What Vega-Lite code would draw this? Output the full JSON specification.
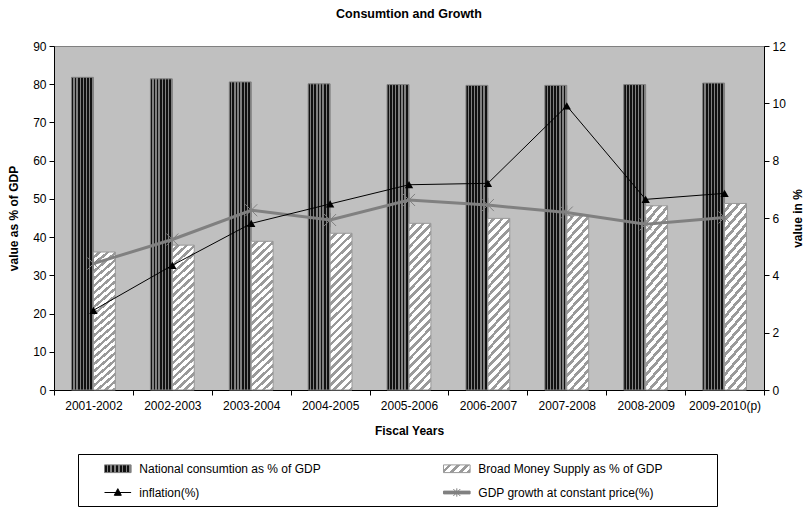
{
  "$schema": "https://vega.github.io/schema/vega-lite/v6.json",
  "width": 710,
  "height": 344,
  "autosize": {"type": "none"},
  "padding": {"left": 54, "top": 46, "right": 45, "bottom": 117},
  "background": "white",
  "title": {"text": "Consumtion and Growth", "font": "Liberation Sans", "fontSize": 12.5, "fontWeight": "bold", "color": "black", "anchor": "middle", "offset": 20},
  "config": {
    "view": {"fill": "#c0c0c0", "stroke": "#808080"},
    "axis": {"domainColor": "black", "tickColor": "black", "labelColor": "black", "titleColor": "black", "labelFont": "Liberation Sans", "titleFont": "Liberation Sans", "labelFontSize": 12, "titleFontSize": 12, "titleFontWeight": "bold", "grid": false, "tickSize": 5, "labelPadding": 3}
  },
  "data": {"values": [
    {"year": "2001-2002", "national": 81.8, "broad": 36.1, "inflation": 2.78, "gdp": 4.41},
    {"year": "2002-2003", "national": 81.4, "broad": 37.9, "inflation": 4.35, "gdp": 5.25},
    {"year": "2003-2004", "national": 80.6, "broad": 38.9, "inflation": 5.81, "gdp": 6.27},
    {"year": "2004-2005", "national": 80.1, "broad": 41.0, "inflation": 6.49, "gdp": 5.93},
    {"year": "2005-2006", "national": 79.9, "broad": 43.6, "inflation": 7.16, "gdp": 6.63},
    {"year": "2006-2007", "national": 79.7, "broad": 44.9, "inflation": 7.21, "gdp": 6.45},
    {"year": "2007-2008", "national": 79.7, "broad": 45.6, "inflation": 9.91, "gdp": 6.19},
    {"year": "2008-2009", "national": 79.9, "broad": 48.2, "inflation": 6.65, "gdp": 5.78},
    {"year": "2009-2010(p)", "national": 80.3, "broad": 48.8, "inflation": 6.86, "gdp": 6.02}
  ]},
  "layer": [
    {
      "transform": [{"fold": ["national", "broad"], "as": ["key", "value"]}],
      "mark": {"type": "bar", "strokeWidth": 1},
      "encoding": {
        "x": {"field": "year", "type": "nominal", "sort": null, "title": "Fiscal Years",
              "scale": {"paddingInner": 0, "paddingOuter": 0},
              "axis": {"tickBand": "extent", "labelAngle": 0, "labelPadding": 5, "titlePadding": 14}},
        "xOffset": {"field": "key", "type": "nominal", "sort": ["national", "broad"], "scale": {"paddingInner": 0, "paddingOuter": 0.8}},
        "y": {"field": "value", "type": "quantitative", "title": "value as % of GDP",
              "scale": {"domain": [0, 90], "nice": false},
              "axis": {"values": [0, 10, 20, 30, 40, 50, 60, 70, 80, 90], "titlePadding": 12}},
        "fill": {"field": "key", "type": "nominal", "legend": null,
          "scale": {"domain": ["national", "broad"], "range": [
            {"expr": "{gradient: 'linear', x1: 0, y1: 0, x2: 1, y2: 0, stops: [{offset: 0, color: '#111111'}, {offset: 0.08, color: '#111111'}, {offset: 0.08, color: '#808080'}, {offset: 0.1429, color: '#808080'}, {offset: 0.1429, color: '#111111'}, {offset: 0.2229, color: '#111111'}, {offset: 0.2229, color: '#808080'}, {offset: 0.2857, color: '#808080'}, {offset: 0.2857, color: '#111111'}, {offset: 0.3657, color: '#111111'}, {offset: 0.3657, color: '#808080'}, {offset: 0.4286, color: '#808080'}, {offset: 0.4286, color: '#111111'}, {offset: 0.5086, color: '#111111'}, {offset: 0.5086, color: '#808080'}, {offset: 0.5714, color: '#808080'}, {offset: 0.5714, color: '#111111'}, {offset: 0.6514, color: '#111111'}, {offset: 0.6514, color: '#808080'}, {offset: 0.7143, color: '#808080'}, {offset: 0.7143, color: '#111111'}, {offset: 0.7943, color: '#111111'}, {offset: 0.7943, color: '#808080'}, {offset: 0.8571, color: '#808080'}, {offset: 0.8571, color: '#111111'}, {offset: 0.9371, color: '#111111'}, {offset: 0.9371, color: '#808080'}, {offset: 1, color: '#808080'}]}"},
            {"expr": "{gradient: 'linear', x1: 0, y1: 0, x2: 0.1535, y2: 1.1163, stops: [{offset: 0, color: '#ffffff'}, {offset: 0.025, color: '#ffffff'}, {offset: 0.025, color: '#9a9a9a'}, {offset: 0.04545, color: '#9a9a9a'}, {offset: 0.04545, color: '#ffffff'}, {offset: 0.07045, color: '#ffffff'}, {offset: 0.07045, color: '#9a9a9a'}, {offset: 0.09091, color: '#9a9a9a'}, {offset: 0.09091, color: '#ffffff'}, {offset: 0.11591, color: '#ffffff'}, {offset: 0.11591, color: '#9a9a9a'}, {offset: 0.13636, color: '#9a9a9a'}, {offset: 0.13636, color: '#ffffff'}, {offset: 0.16136, color: '#ffffff'}, {offset: 0.16136, color: '#9a9a9a'}, {offset: 0.18182, color: '#9a9a9a'}, {offset: 0.18182, color: '#ffffff'}, {offset: 0.20682, color: '#ffffff'}, {offset: 0.20682, color: '#9a9a9a'}, {offset: 0.22727, color: '#9a9a9a'}, {offset: 0.22727, color: '#ffffff'}, {offset: 0.25227, color: '#ffffff'}, {offset: 0.25227, color: '#9a9a9a'}, {offset: 0.27273, color: '#9a9a9a'}, {offset: 0.27273, color: '#ffffff'}, {offset: 0.29773, color: '#ffffff'}, {offset: 0.29773, color: '#9a9a9a'}, {offset: 0.31818, color: '#9a9a9a'}, {offset: 0.31818, color: '#ffffff'}, {offset: 0.34318, color: '#ffffff'}, {offset: 0.34318, color: '#9a9a9a'}, {offset: 0.36364, color: '#9a9a9a'}, {offset: 0.36364, color: '#ffffff'}, {offset: 0.38864, color: '#ffffff'}, {offset: 0.38864, color: '#9a9a9a'}, {offset: 0.40909, color: '#9a9a9a'}, {offset: 0.40909, color: '#ffffff'}, {offset: 0.43409, color: '#ffffff'}, {offset: 0.43409, color: '#9a9a9a'}, {offset: 0.45455, color: '#9a9a9a'}, {offset: 0.45455, color: '#ffffff'}, {offset: 0.47955, color: '#ffffff'}, {offset: 0.47955, color: '#9a9a9a'}, {offset: 0.5, color: '#9a9a9a'}, {offset: 0.5, color: '#ffffff'}, {offset: 0.525, color: '#ffffff'}, {offset: 0.525, color: '#9a9a9a'}, {offset: 0.54545, color: '#9a9a9a'}, {offset: 0.54545, color: '#ffffff'}, {offset: 0.57045, color: '#ffffff'}, {offset: 0.57045, color: '#9a9a9a'}, {offset: 0.59091, color: '#9a9a9a'}, {offset: 0.59091, color: '#ffffff'}, {offset: 0.61591, color: '#ffffff'}, {offset: 0.61591, color: '#9a9a9a'}, {offset: 0.63636, color: '#9a9a9a'}, {offset: 0.63636, color: '#ffffff'}, {offset: 0.66136, color: '#ffffff'}, {offset: 0.66136, color: '#9a9a9a'}, {offset: 0.68182, color: '#9a9a9a'}, {offset: 0.68182, color: '#ffffff'}, {offset: 0.70682, color: '#ffffff'}, {offset: 0.70682, color: '#9a9a9a'}, {offset: 0.72727, color: '#9a9a9a'}, {offset: 0.72727, color: '#ffffff'}, {offset: 0.75227, color: '#ffffff'}, {offset: 0.75227, color: '#9a9a9a'}, {offset: 0.77273, color: '#9a9a9a'}, {offset: 0.77273, color: '#ffffff'}, {offset: 0.79773, color: '#ffffff'}, {offset: 0.79773, color: '#9a9a9a'}, {offset: 0.81818, color: '#9a9a9a'}, {offset: 0.81818, color: '#ffffff'}, {offset: 0.84318, color: '#ffffff'}, {offset: 0.84318, color: '#9a9a9a'}, {offset: 0.86364, color: '#9a9a9a'}, {offset: 0.86364, color: '#ffffff'}, {offset: 0.88864, color: '#ffffff'}, {offset: 0.88864, color: '#9a9a9a'}, {offset: 0.90909, color: '#9a9a9a'}, {offset: 0.90909, color: '#ffffff'}, {offset: 0.93409, color: '#ffffff'}, {offset: 0.93409, color: '#9a9a9a'}, {offset: 0.95455, color: '#9a9a9a'}, {offset: 0.95455, color: '#ffffff'}, {offset: 0.97955, color: '#ffffff'}, {offset: 0.97955, color: '#9a9a9a'}, {offset: 1, color: '#9a9a9a'}]}"}
          ]}
        },
        "stroke": {"field": "key", "type": "nominal",
          "scale": {"domain": ["national", "inflation", "broad", "gdp"], "range": ["#808080", "#000000", "#999999", "#808080"]},
          "legend": {
            "orient": "none", "legendX": 24, "legendY": 408, "columns": 2,
            "title": "xx", "titleOrient": "left", "titlePadding": 7, "titleColor": "transparent", "titleFont": "Liberation Sans", "titleFontSize": 12, "titleFontWeight": "normal",
            "labelFont": "Liberation Sans", "labelFontSize": 12, "labelColor": "black", "labelOffset": 14, "labelLimit": 500,
            "labelExpr": "{'national': 'National consumtion as % of GDP', 'broad': 'Broad Money Supply as % of GDP', 'inflation': 'inflation(%)', 'gdp': 'GDP growth at constant price(%)'}[datum.value]",
            "symbolSize": 196, "symbolOffset": 6.3, "columnPadding": 120, "rowPadding": 10, "padding": 7,
            "strokeColor": "#000000", "fillColor": "#ffffff",
            "symbolType": {"expr": "(datum.value === 'national' || datum.value === 'broad') ? 'M-1.9,-0.55H1.9V0.55H-1.9Z' : (datum.value === 'inflation' ? 'M-1.9,0H1.9M0,-0.55L0.5,0.4L-0.5,0.4Z' : 'M-1.9,-0.2H1.9V0.2H-1.9ZM-0.5,-0.5L0.5,0.5M-0.5,0.5L0.5,-0.5M0,-0.6V0.6M35.8,0L35.8,0.001')"},
            "symbolFillColor": {"expr": "datum.value === 'national' ? {gradient: 'linear', x1: 0, y1: 0, x2: 1, y2: 0, stops: [{offset: 0, color: '#111111'}, {offset: 0.08, color: '#111111'}, {offset: 0.08, color: '#808080'}, {offset: 0.143, color: '#808080'}, {offset: 0.143, color: '#111111'}, {offset: 0.223, color: '#111111'}, {offset: 0.223, color: '#808080'}, {offset: 0.286, color: '#808080'}, {offset: 0.286, color: '#111111'}, {offset: 0.366, color: '#111111'}, {offset: 0.366, color: '#808080'}, {offset: 0.429, color: '#808080'}, {offset: 0.429, color: '#111111'}, {offset: 0.509, color: '#111111'}, {offset: 0.509, color: '#808080'}, {offset: 0.571, color: '#808080'}, {offset: 0.571, color: '#111111'}, {offset: 0.651, color: '#111111'}, {offset: 0.651, color: '#808080'}, {offset: 0.714, color: '#808080'}, {offset: 0.714, color: '#111111'}, {offset: 0.794, color: '#111111'}, {offset: 0.794, color: '#808080'}, {offset: 0.857, color: '#808080'}, {offset: 0.857, color: '#111111'}, {offset: 0.937, color: '#111111'}, {offset: 0.937, color: '#808080'}, {offset: 1, color: '#808080'}]} : (datum.value === 'broad' ? {gradient: 'linear', x1: 0, y1: 0, x2: 1.19, y2: 0.353, stops: [{offset: 0, color: '#ffffff'}, {offset: 0.14, color: '#ffffff'}, {offset: 0.14, color: '#9a9a9a'}, {offset: 0.25, color: '#9a9a9a'}, {offset: 0.25, color: '#ffffff'}, {offset: 0.39, color: '#ffffff'}, {offset: 0.39, color: '#9a9a9a'}, {offset: 0.5, color: '#9a9a9a'}, {offset: 0.5, color: '#ffffff'}, {offset: 0.64, color: '#ffffff'}, {offset: 0.64, color: '#9a9a9a'}, {offset: 0.75, color: '#9a9a9a'}, {offset: 0.75, color: '#ffffff'}, {offset: 0.89, color: '#ffffff'}, {offset: 0.89, color: '#9a9a9a'}, {offset: 1, color: '#9a9a9a'}]} : (datum.value === 'inflation' ? '#000000' : '#808080'))"},
            "symbolStrokeWidth": 1,
            "symbolOpacity": 1
          }
        }
      }
    },
    {
      "layer": [
        {
          "mark": {"type": "line", "color": "#808080", "strokeWidth": 3},
          "encoding": {
            "x": {"field": "year", "type": "nominal", "sort": null},
            "y": {"field": "gdp", "type": "quantitative", "title": "value in %", "scale": {"domain": [0, 12], "nice": false},
                  "axis": {"orient": "right", "values": [0, 2, 4, 6, 8, 10, 12], "titleAngle": 270, "titlePadding": 19}}
          }
        },
        {
          "mark": {"type": "point", "shape": "M-1,-1L1,1M-1,1L1,-1M0,-1.2V1.2", "filled": false, "color": "#808080", "strokeWidth": 1, "size": 144, "opacity": 1},
          "encoding": {
            "x": {"field": "year", "type": "nominal", "sort": null},
            "y": {"field": "gdp", "type": "quantitative", "title": "value in %"}
          }
        },
        {
          "mark": {"type": "line", "color": "#000000", "strokeWidth": 1},
          "encoding": {
            "x": {"field": "year", "type": "nominal", "sort": null},
            "y": {"field": "inflation", "type": "quantitative", "title": "value in %"}
          }
        },
        {
          "mark": {"type": "point", "shape": "triangle-up", "filled": true, "color": "#000000", "size": 70, "opacity": 1},
          "encoding": {
            "x": {"field": "year", "type": "nominal", "sort": null},
            "y": {"field": "inflation", "type": "quantitative", "title": "value in %"}
          }
        }
      ]
    }
  ],
  "resolve": {"scale": {"y": "independent"}}
}
